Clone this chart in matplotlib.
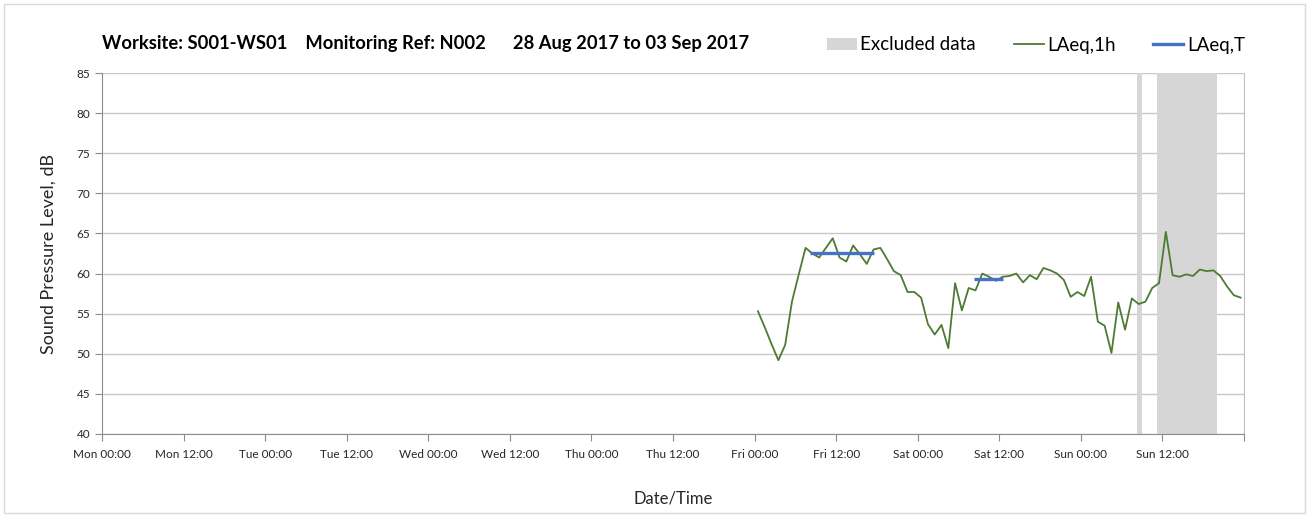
import numpy as np
import matplotlib
matplotlib.use('Agg')
import matplotlib.pyplot as plt
from matplotlib.patches import Rectangle, Patch
from matplotlib.lines import Line2D

plt.rcParams['font.family'] = ['Lato', 'DejaVu Sans']

# hourly LAeq,1h values, first one at Fri 00:30 (hours counted from Mon 00:00)
first_hour = 96.5
laeq_1h = [55.3, 53.3, 51.2, 49.2, 51.1, 56.5, 59.9, 63.2, 62.5, 62.0,
           63.2, 64.4, 62.0, 61.5, 63.5, 62.4, 61.2, 63.0, 63.2, 61.8,
           60.3, 59.8, 57.7, 57.7, 57.0, 53.7, 52.4, 53.6, 50.7, 58.8,
           55.4, 58.2, 57.9, 60.0, 59.6, 59.1, 59.6, 59.7, 60.0, 58.9,
           59.8, 59.3, 60.7, 60.4, 60.0, 59.2, 57.1, 57.7, 57.2, 59.6,
           54.0, 53.5, 50.1, 56.4, 53.0, 56.9, 56.2, 56.5, 58.2, 58.8,
           65.2, 59.8, 59.6, 59.9, 59.7, 60.5, 60.3, 60.4, 59.7, 58.4,
           57.3, 57.0]

# LAeq,T periods: (start hour, end hour, level)
laeq_t_start = [104.2, 128.3]
laeq_t_end = [113.5, 132.5]
laeq_t_level = [62.6, 59.3]

# excluded data periods (start hour, end hour)
excl_start = [152.2, 155.2]
excl_end = [153.0, 164.1]

days = ['Mon', 'Tue', 'Wed', 'Thu', 'Fri', 'Sat', 'Sun']
title = 'Worksite: S001-WS01    Monitoring Ref: N002      28 Aug 2017 to 03 Sep 2017'

green = '#4e7a32'
blue = '#4472c4'
shade = '#d6d6d6'

fig = plt.figure(figsize=(13.09, 5.32), dpi=100)
fig.patches.append(Rectangle((0.003, 0.035), 0.994, 0.958, transform=fig.transFigure,
                             fill=False, edgecolor='#d9d9d9', linewidth=1))
ax = fig.add_axes([102 / 1309, 1 - 434 / 532, 1142 / 1309, 361 / 532])

hours = first_hour + np.arange(len(laeq_1h))
for s, e in zip(excl_start, excl_end):
    ax.axvspan(s, e, color=shade, lw=0, zorder=1)
ax.plot(hours, laeq_1h, color=green, lw=1.3, zorder=3)
ax.hlines(laeq_t_level, laeq_t_start, laeq_t_end, color=blue, lw=2.4, zorder=4)

ax.set_xlim(0, 168)
ax.set_ylim(40, 85)
ax.set_yticks(np.arange(40, 86, 5))
xt = np.arange(0, 169, 12)
ax.set_xticks(xt)
labels = ['%s %02d:00' % (days[int(h // 24)], h % 24) for h in xt[:-1]] + ['']
ax.set_xticklabels(labels)
ax.set_xticks(np.arange(0, 169, 24), minor=True)

ax.grid(axis='y', color='#c8c8c8', lw=1.0, zorder=0)
ax.grid(axis='x', which='minor', color='#d9d9d9', lw=1.0, zorder=0)
ax.grid(axis='x', which='major', visible=False)
ax.set_axisbelow(True)

ax.spines['top'].set_visible(False)
ax.spines['right'].set_color('#bfbfbf')
for sp in ['left', 'bottom']:
    ax.spines[sp].set_color('#8c8c8c')
ax.tick_params(axis='both', which='major', colors='#8c8c8c', length=5, labelcolor='#262626', labelsize=8.5)
ax.tick_params(axis='x', which='minor', length=0)
ax.tick_params(axis='x', pad=6)

ax.set_ylabel('Sound Pressure Level, dB', fontsize=13, color='#262626', labelpad=14)
ax.set_xlabel('Date/Time', fontsize=12, color='#262626', labelpad=22)

fig.text(102 / 1309, 1 - 44 / 532, title, fontsize=13.2, fontweight='bold', va='center', ha='left')

handles = [Patch(facecolor=shade, edgecolor='none'),
           Line2D([], [], color=green, lw=1.3),
           Line2D([], [], color=blue, lw=2.4)]
fig.legend(handles, ['Excluded data', 'LAeq,1h', 'LAeq,T'], ncol=3, frameon=False,
           loc='center right', bbox_to_anchor=(1262 / 1309, 1 - 45 / 532),
           fontsize=13.5, handlelength=1.6, handleheight=0.6, handletextpad=0.2,
           columnspacing=2.0)

fig.savefig('out.png', dpi=100)
